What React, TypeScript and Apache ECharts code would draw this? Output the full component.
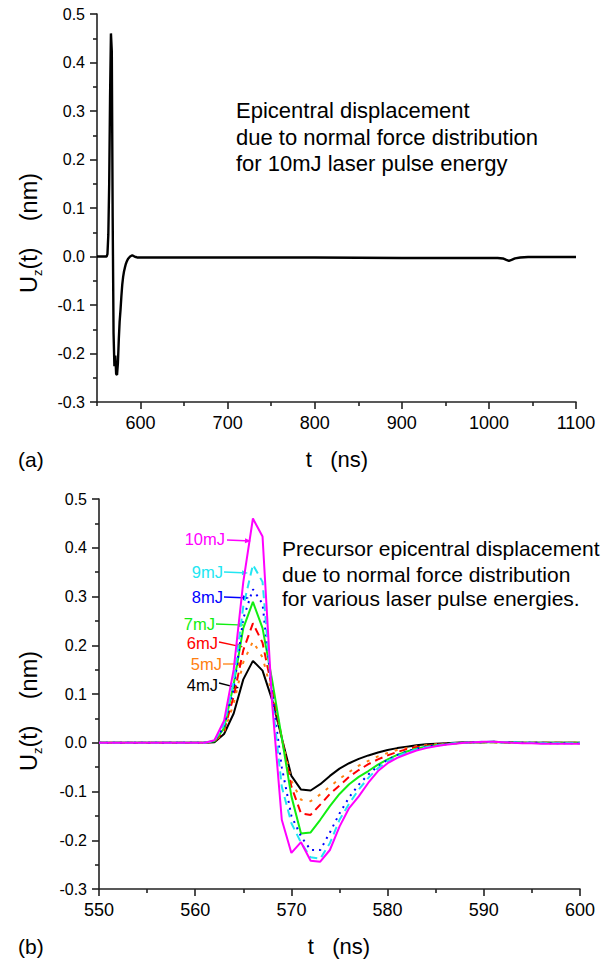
import { useEffect, useRef } from 'react';
import * as echarts from 'echarts';

const FONT = '"Liberation Sans", Arial, Helvetica, sans-serif';

// time samples (ns) for precursor curves
const T = [550, 551, 552, 553, 554, 555, 556, 557, 558, 559, 560, 561, 562, 563, 564, 565, 566, 567, 568, 569, 570,
  571, 572, 573, 574, 575, 576, 577, 578, 579, 580, 581, 582, 583, 584, 585, 586, 587, 588, 589, 590,
  591, 592, 593, 594, 595, 596, 597, 598, 599, 600];

const U10 = [0, 0, 0, 0, 0, 0, 0, 0, 0, 0, 0, 0,
  0.005, 0.045, 0.15, 0.33, 0.46, 0.423, 0.08,
  -0.158, -0.226, -0.204, -0.242, -0.244, -0.22, -0.172, -0.134, -0.11, -0.082, -0.058, -0.042,
  -0.031, -0.023, -0.016, -0.011, -0.007, -0.004, -0.002, 0, 0.001, 0.002,
  0.002, 0.001, 0, -0.001, -0.001, -0.002, -0.002, -0.002, -0.002, -0.002];
const U9 = [0, 0, 0, 0, 0, 0, 0, 0, 0, 0, 0, 0,
  0.004, 0.038, 0.125, 0.28, 0.365, 0.33, 0.09,
  -0.09, -0.165, -0.205, -0.235, -0.238, -0.206, -0.158, -0.125, -0.096, -0.072, -0.052, -0.038,
  -0.028, -0.02, -0.014, -0.009, -0.006, -0.003, -0.001, 0, 0.001, 0.002,
  0.002, 0.001, 0.001, 0, 0, -0.001, -0.001, -0.001, -0.001, -0.001];
const U8 = [0, 0, 0, 0, 0, 0, 0, 0, 0, 0, 0, 0,
  0.004, 0.033, 0.11, 0.255, 0.315, 0.285, 0.1,
  -0.05, -0.15, -0.192, -0.22, -0.22, -0.184, -0.145, -0.112, -0.086, -0.065, -0.048, -0.035,
  -0.025, -0.018, -0.012, -0.008, -0.005, -0.003, -0.001, 0, 0.001, 0.001,
  0.002, 0.001, 0.001, 0, 0, 0, -0.001, -0.001, -0.001, -0.001];
const U7 = [0, 0, 0, 0, 0, 0, 0, 0, 0, 0, 0, 0,
  0.003, 0.03, 0.12, 0.235, 0.289, 0.235, 0.128,
  0.01, -0.11, -0.186, -0.184, -0.158, -0.13, -0.105, -0.085, -0.07, -0.058, -0.045, -0.034,
  -0.025, -0.018, -0.012, -0.008, -0.005, -0.003, -0.001, 0, 0.001, 0.001,
  0.001, 0.001, 0.001, 0, 0, 0, 0, 0, 0, 0];
const U6 = [0, 0, 0, 0, 0, 0, 0, 0, 0, 0, 0, 0,
  0.002, 0.025, 0.095, 0.19, 0.245, 0.205, 0.11,
  0.01, -0.09, -0.145, -0.148, -0.127, -0.105, -0.088, -0.07, -0.056, -0.044, -0.034, -0.026,
  -0.019, -0.013, -0.009, -0.006, -0.004, -0.002, -0.001, 0, 0.001, 0.001,
  0.001, 0.001, 0, 0, 0, 0, 0, 0, 0, 0];
const U5 = [0, 0, 0, 0, 0, 0, 0, 0, 0, 0, 0, 0,
  0.002, 0.022, 0.08, 0.165, 0.208, 0.175, 0.1,
  0.01, -0.078, -0.117, -0.12, -0.106, -0.09, -0.074, -0.06, -0.047, -0.037, -0.028, -0.021,
  -0.015, -0.011, -0.007, -0.005, -0.003, -0.002, -0.001, 0, 0.001, 0.001,
  0.001, 0, 0, 0, 0, 0, 0, 0, 0, 0];
const U4 = [0, 0, 0, 0, 0, 0, 0, 0, 0, 0, 0, 0,
  0.001, 0.018, 0.06, 0.13, 0.168, 0.148, 0.088,
  0.01, -0.068, -0.096, -0.098, -0.085, -0.068, -0.053, -0.042, -0.033, -0.026, -0.02, -0.015,
  -0.011, -0.008, -0.005, -0.003, -0.002, -0.001, 0, 0.001, 0.001, 0.001,
  0.002, 0.001, 0.001, 0, 0, 0, 0, 0, 0, 0];

// long-time tail of the 10mJ epicentral displacement (panel a)
const TAIL_T = [605, 610, 620, 650, 700, 800, 900, 1000, 1010, 1016, 1020, 1023, 1026, 1030, 1036, 1045, 1060, 1080, 1100];
const TAIL_U = [-0.002, -0.002, -0.002, -0.002, -0.002, -0.002, -0.003, -0.003, -0.003, -0.004, -0.007, -0.009, -0.007, -0.004, -0.002, -0.001, -0.001, -0.001, -0.001];

const ENERGY_LABELS = ['10mJ', '9mJ', '8mJ', '7mJ', '6mJ', '5mJ', '4mJ'];
const ENERGY_SERIES = [U10, U9, U8, U7, U6, U5, U4];
const COLORS = ['#ff00ff', '#22e6f2', '#0000ff', '#11ee11', '#ff0000', '#ff8010', '#000000'];
const LINE_TYPES: any[] = ['solid', [8, 5], [2, 5], 'solid', [8, 5], [3, 7], 'solid'];

const X_TOP_MAJOR = [600, 700, 800, 900, 1000, 1100];
const X_TOP_MINOR = [550, 650, 750, 850, 950, 1050];

// label / arrow placement (pixels)
const LABEL_POS = [
  { tx: 225, ty: 539, x1: 227, y1: 540, x2: 251, y2: 541 },
  { tx: 223, ty: 572, x1: 224, y1: 572, x2: 248, y2: 573 },
  { tx: 223, ty: 597, x1: 224, y1: 597, x2: 249, y2: 598 },
  { tx: 215, ty: 624, x1: 216, y1: 624, x2: 244, y2: 625 },
  { tx: 218, ty: 643, x1: 219, y1: 642, x2: 243, y2: 647 },
  { tx: 222, ty: 664, x1: 223, y1: 664, x2: 243, y2: 664 },
  { tx: 218, ty: 685, x1: 219, y1: 683, x2: 239, y2: 688 },
];

function arrow(x1: number, y1: number, x2: number, y2: number, color: string) {
  const ang = Math.atan2(y2 - y1, x2 - x1);
  const L = 6, W = 2.6;
  const bx = x2 - L * Math.cos(ang), by = y2 - L * Math.sin(ang);
  const px = -Math.sin(ang) * W, py = Math.cos(ang) * W;
  return [
    { type: 'line', silent: true, shape: { x1, y1, x2: bx, y2: by }, style: { stroke: color, lineWidth: 1.3 } },
    { type: 'polygon', silent: true, shape: { points: [[x2, y2], [bx + px, by + py], [bx - px, by - py]] }, style: { fill: color } },
  ];
}

const AX = { color: '#222', width: 1.6 };
const yFmt = (v: number) => (Math.abs(v) < 1e-9 ? 0 : v).toFixed(1);
const xFmt = (v: number) => String(Math.round(v));

function yAxisCfg(gridIndex: number) {
  return {
    gridIndex, type: 'value', min: -0.3, max: 0.5, interval: 0.1,
    axisLine: { show: true, onZero: false, lineStyle: AX },
    axisTick: { show: true, length: 7, lineStyle: AX },
    minorTick: { show: true, splitNumber: 2, length: 4, lineStyle: AX },
    axisLabel: { formatter: yFmt, fontSize: 16, color: '#000', fontFamily: FONT, margin: 12 },
    splitLine: { show: false }, minorSplitLine: { show: false },
  };
}

function yTitle(x: number, y: number) {
  return {
    type: 'text', x, y, rotation: Math.PI / 2, silent: true,
    style: {
      text: '{a|U}{b|z}{a|(t)\u00a0\u00a0\u00a0\u00a0(nm)}',
      align: 'center', verticalAlign: 'middle',
      rich: {
        a: { fontSize: 23.5, fontFamily: FONT, fill: '#000' },
        b: { fontSize: 13, fontFamily: FONT, fill: '#000', padding: [17, 0, 0, 0] },
      },
    },
  };
}

function plainText(x: number, y: number, text: string, size: number, color = '#000', align = 'left') {
  return {
    type: 'text', x, y, silent: true,
    style: { text, fontSize: size, fontFamily: FONT, fill: color, align, verticalAlign: 'middle' },
  };
}

export default function App() {
  const ref = useRef<HTMLDivElement>(null);
  useEffect(() => {
    if (!ref.current) return;
    const chart = echarts.init(ref.current, null, { renderer: 'svg' });

    const topData = T.map((t, i) => [t, U10[i]]).concat(TAIL_T.map((t, i) => [t, TAIL_U[i]]));

    const graphic: any[] = [
      yTitle(29, 233),
      yTitle(29, 711),
      plainText(337, 459, 't\u00a0\u00a0\u00a0(ns)', 22, '#000', 'center'),
      plainText(339, 946, 't\u00a0\u00a0\u00a0(ns)', 22, '#000', 'center'),
      plainText(18, 459, '(a)', 21),
      plainText(18, 946, '(b)', 21),
      plainText(236, 110, 'Epicentral displacement', 22),
      plainText(236, 137, 'due to normal force distribution', 22),
      plainText(236, 163, 'for 10mJ laser pulse energy', 22),
      plainText(282, 548, 'Precursor epicentral displacement', 21),
      plainText(282, 574, 'due to normal force distribution', 21),
      plainText(282, 598, 'for various laser pulse energies.', 21),
    ];
    ENERGY_LABELS.forEach((lab, i) => {
      const p = LABEL_POS[i];
      graphic.push(plainText(p.tx, p.ty, lab, 16.5, COLORS[i], 'right'));
      graphic.push(...arrow(p.x1, p.y1, p.x2, p.y2, COLORS[i]));
    });

    chart.setOption({
      animation: false,
      backgroundColor: '#fff',
      grid: [
        { left: 97, top: 14, width: 479, height: 388, outerBoundsMode: 'none' },
        { left: 99, top: 499, width: 481, height: 390, outerBoundsMode: 'none' },
      ],
      xAxis: [
        {
          gridIndex: 0, type: 'value', min: 550, max: 1100, position: 'bottom',
          axisLine: { show: true, onZero: false, lineStyle: AX },
          axisTick: { show: true, customValues: X_TOP_MAJOR, length: 7, lineStyle: AX },
          axisLabel: { customValues: X_TOP_MAJOR, formatter: xFmt, fontSize: 18, color: '#000', fontFamily: FONT, margin: 12 },
          splitLine: { show: false },
        },
        {
          gridIndex: 0, type: 'value', min: 550, max: 1100, position: 'bottom',
          axisLine: { show: false, onZero: false },
          axisTick: { show: true, customValues: X_TOP_MINOR, length: 4, lineStyle: AX },
          axisLabel: { show: false },
          splitLine: { show: false },
        },
        {
          gridIndex: 1, type: 'value', min: 550, max: 600, interval: 10, position: 'bottom',
          axisLine: { show: true, onZero: false, lineStyle: AX },
          axisTick: { show: true, length: 7, lineStyle: AX },
          minorTick: { show: true, splitNumber: 2, length: 4, lineStyle: AX },
          axisLabel: { formatter: xFmt, fontSize: 18, color: '#000', fontFamily: FONT, margin: 12 },
          splitLine: { show: false }, minorSplitLine: { show: false },
        },
      ],
      yAxis: [yAxisCfg(0), yAxisCfg(1)],
      series: [
        {
          type: 'line', xAxisIndex: 0, yAxisIndex: 0, data: topData, symbol: 'none',
          lineStyle: { color: '#000', width: 2.4 },
        },
        ...ENERGY_SERIES.map((d, i) => ({
          type: 'line', name: ENERGY_LABELS[i], xAxisIndex: 2, yAxisIndex: 1,
          data: T.map((t, j) => [t, d[j]]), symbol: 'none',
          lineStyle: { color: COLORS[i], width: 2, type: LINE_TYPES[i] },
          z: 2 + (ENERGY_SERIES.length - i),
        })),
      ],
      graphic,
    });
    return () => chart.dispose();
  }, []);
  return <div ref={ref} style={{ position: 'absolute', left: 0, top: 0, width: 613, height: 961 }} />;
}
